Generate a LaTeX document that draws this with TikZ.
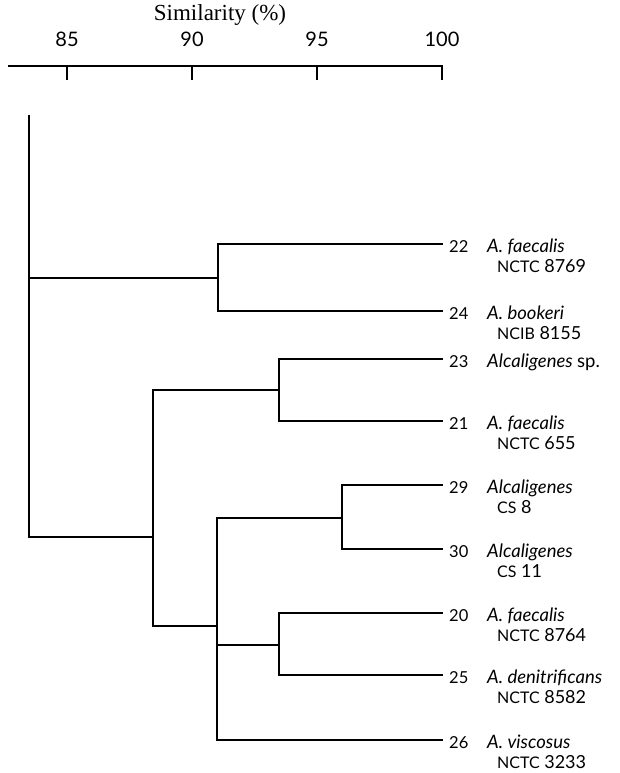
\documentclass[tikz,border=0pt]{standalone}
\usepackage{fontspec}
\setmainfont{Liberation Serif}
\newfontfamily\lab{Lato}
\begin{document}
\begin{tikzpicture}[x=1pt,y=-1pt,
  tree/.style={line width=1.5pt,line join=miter},
  axisline/.style={line width=1.6pt},
  num/.style={anchor=base west,inner sep=0pt,font=\lab\fontsize{16.5}{18}\selectfont},
  nm/.style={anchor=base west,inner sep=0pt,font=\lab\itshape\fontsize{18.5}{20}\selectfont},
  code/.style={anchor=base west,inner sep=0pt,font=\lab\fontsize{18}{20}\selectfont},
  tick/.style={anchor=base,inner sep=0pt,font=\lab\fontsize{20}{22}\selectfont}]
\useasboundingbox (0,0) rectangle (620,773);
\newcommand{\sm}[1]{{\fontsize{16}{18}\selectfont #1}}
% axis
\node[anchor=base,inner sep=0pt,font=\fontsize{23}{25}\selectfont] (title) at (220,21) {Similarity (\%)};
\coordinate (ax0) at (8,66);
\coordinate (ax1) at (443,66);
\draw[axisline] (ax0) -- (ax1);
\foreach \v/\xx in {85/67,90/192,95/317,100/442}{
  \draw[axisline] (\xx,66) -- (\xx,80);
  \node[tick] (t\v) at (\xx,47) {\v};
}
% leaves
\foreach \n/\yy in {22/244,24/311,23/359,21/421,29/485,30/549,20/613,25/675,26/740}{
  \coordinate (c\n) at (443,\yy);
  \node[num] (num\n) at (449,\yy+8) {\n};
}
\node[nm] (nm22) at (487,252) {A. faecalis};
\node[code] (cd22) at (497,272) {\sm{NCTC} 8769};
\node[nm] (nm24) at (487,319) {A. bookeri};
\node[code] (cd24) at (497,339) {\sm{NCIB} 8155};
\node[nm] (nm23) at (487,367) {Alcaligenes {\upshape sp.}};
\node[nm] (nm21) at (487,429) {A. faecalis};
\node[code] (cd21) at (497,449) {\sm{NCTC} 655};
\node[nm] (nm29) at (487,493) {Alcaligenes};
\node[code] (cd29) at (497,513) {\sm{CS} 8};
\node[nm] (nm30) at (487,557) {Alcaligenes};
\node[code] (cd30) at (497,577) {\sm{CS} 11};
\node[nm] (nm20) at (487,621) {A. faecalis};
\node[code] (cd20) at (497,641) {\sm{NCTC} 8764};
\node[nm] (nm25) at (487,683) {A. denitrificans};
\node[code] (cd25) at (497,703) {\sm{NCTC} 8582};
\node[nm] (nm26) at (487,748) {A. viscosus};
\node[code] (cd26) at (497,768) {\sm{NCTC} 3233};
% internal nodes
\coordinate (roottop) at (29,115);
\coordinate (n2224) at (218,278);
\coordinate (n5) at (153,537);
\coordinate (n2321) at (279,390);
\coordinate (n4) at (217,626);
\coordinate (n2930) at (342,518);
\coordinate (n2025) at (279,645);
\draw[tree] (roottop) |- (n2224);
\draw[tree] (roottop) |- (n5);
\draw[tree] (n2224) |- (c22);
\draw[tree] (n2224) |- (c24);
\draw[tree] (n5) |- (n2321);
\draw[tree] (n5) |- (n4);
\draw[tree] (n2321) |- (c23);
\draw[tree] (n2321) |- (c21);
\draw[tree] (n4) |- (n2930);
\draw[tree] (n4) |- (n2025);
\draw[tree] (n4) |- (c26);
\draw[tree] (n2930) |- (c29);
\draw[tree] (n2930) |- (c30);
\draw[tree] (n2025) |- (c20);
\draw[tree] (n2025) |- (c25);
\end{tikzpicture}
\end{document}
